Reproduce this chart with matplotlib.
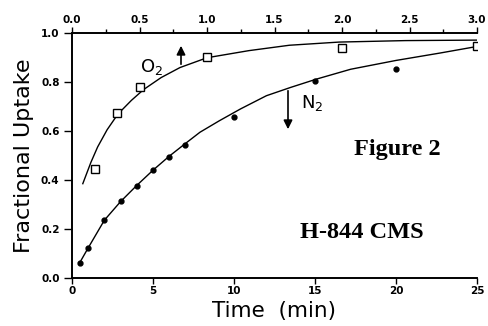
import numpy as np
import matplotlib
matplotlib.use("Agg")
from matplotlib import pyplot as plt
from matplotlib.ticker import MultipleLocator

# N2 uptake, bottom axis (min)
n2_time = [0.5, 1, 2, 3, 4, 5, 6, 7, 10, 15, 20, 25]
n2_uptake = [0.062, 0.123, 0.238, 0.314, 0.377, 0.442, 0.493, 0.541, 0.657, 0.803, 0.854, 0.947]
# fitted curve for N2
n2_fit_t = [0.43, 1.0, 2.0, 3.0, 4.0, 5.0, 6.0, 7.0, 7.9, 9.1, 10.4, 12.0, 13.5, 15.1, 17.2, 20.0, 22.7, 25.0]
n2_fit_y = [0.057, 0.123, 0.236, 0.312, 0.378, 0.440, 0.497, 0.549, 0.595, 0.642, 0.690, 0.744,
            0.778, 0.812, 0.852, 0.888, 0.918, 0.945]

# O2 uptake, top axis
o2_time = [0.167, 0.333, 0.5, 1.0, 2.0, 3.0]
o2_uptake = [0.446, 0.673, 0.781, 0.902, 0.940, 0.946]
o2_fit_t = [0.08, 0.14, 0.19, 0.26, 0.34, 0.44, 0.53, 0.66, 0.80, 1.0, 1.31, 1.61, 1.98, 2.47, 3.0]
o2_fit_y = [0.385, 0.472, 0.535, 0.605, 0.669, 0.725, 0.769, 0.818, 0.859, 0.899, 0.928, 0.950, 0.963,
            0.969, 0.971]

W, H = 488, 326
fig = plt.figure(figsize=(W / 100, H / 100), dpi=100)
ax = fig.add_axes([72 / W, 1 - 278 / H, 405 / W, 245 / H])
ax2 = ax.twiny()

ax.plot(n2_fit_t, n2_fit_y, color='k', lw=1.0)
ax.plot(n2_time, n2_uptake, 'o', color='k', ms=3.5)
ax2.plot(o2_fit_t, o2_fit_y, color='k', lw=1.0)
ax2.plot(o2_time, o2_uptake, 's', mfc='white', mec='k', mew=1.0, ms=5.5)

ax.set_xlim(0, 25)
ax.set_ylim(0, 1.0)
ax2.set_xlim(0, 3.0)

ax.set_xticks([0, 5, 10, 15, 20, 25])
ax.set_yticks([0.0, 0.2, 0.4, 0.6, 0.8, 1.0])
ax.set_yticklabels(['0.0', '0.2', '0.4', '0.6', '0.8', '1.0'])
ax2.set_xticks([0.0, 0.5, 1.0, 1.5, 2.0, 2.5, 3.0])
ax2.set_xticklabels(['0.0', '0.5', '1.0', '1.5', '2.0', '2.5', '3.0'])
ax2.xaxis.set_minor_locator(MultipleLocator(0.25))

for a in (ax, ax2):
    a.spines['right'].set_visible(False)
    for s in a.spines.values():
        s.set_linewidth(1.2)

tick_font = dict(labelsize=7.5, width=1.0, direction='out', color='k')
ax.tick_params(axis='x', length=4, pad=2, **tick_font)
ax.tick_params(axis='y', length=6, pad=3, **tick_font)
ax2.tick_params(axis='x', which='major', length=4, pad=2, **tick_font)
ax2.tick_params(axis='x', which='minor', length=3, width=1.0, direction='out')
for lab in ax.get_xticklabels() + ax.get_yticklabels() + ax2.get_xticklabels():
    lab.set_fontweight('bold')

ax.set_xlabel('Time  (min)', fontsize=15.5, labelpad=3)
ax.set_ylabel('Fractional Uptake', fontsize=16, labelpad=5)

# annotations
ax.text(0.197, 0.863, 'O$_2$', transform=ax.transAxes, fontsize=13, ha='center', va='center')
ax.annotate('', xy=(181 / W, 1 - 43 / H), xytext=(181 / W, 1 - 67 / H), xycoords='figure fraction',
            arrowprops=dict(arrowstyle='-|>', color='k', lw=1.2, mutation_scale=13))
ax.text(312 / W, 1 - 103 / H, 'N$_2$', transform=fig.transFigure, fontsize=13, ha='center', va='center')
ax.annotate('', xy=(288 / W, 1 - 132 / H), xytext=(288 / W, 1 - 88 / H), xycoords='figure fraction',
            arrowprops=dict(arrowstyle='-|>', color='k', lw=1.2, mutation_scale=13))

fig.text(397 / W, 1 - 149 / H, 'Figure 2', fontsize=17.5, fontweight='bold',
         family='Liberation Serif', ha='center', va='center')
fig.text(362 / W, 1 - 233 / H, 'H-844 CMS', fontsize=17.5, fontweight='bold',
         family='Liberation Serif', ha='center', va='center')

fig.savefig('out.png', dpi=100)
